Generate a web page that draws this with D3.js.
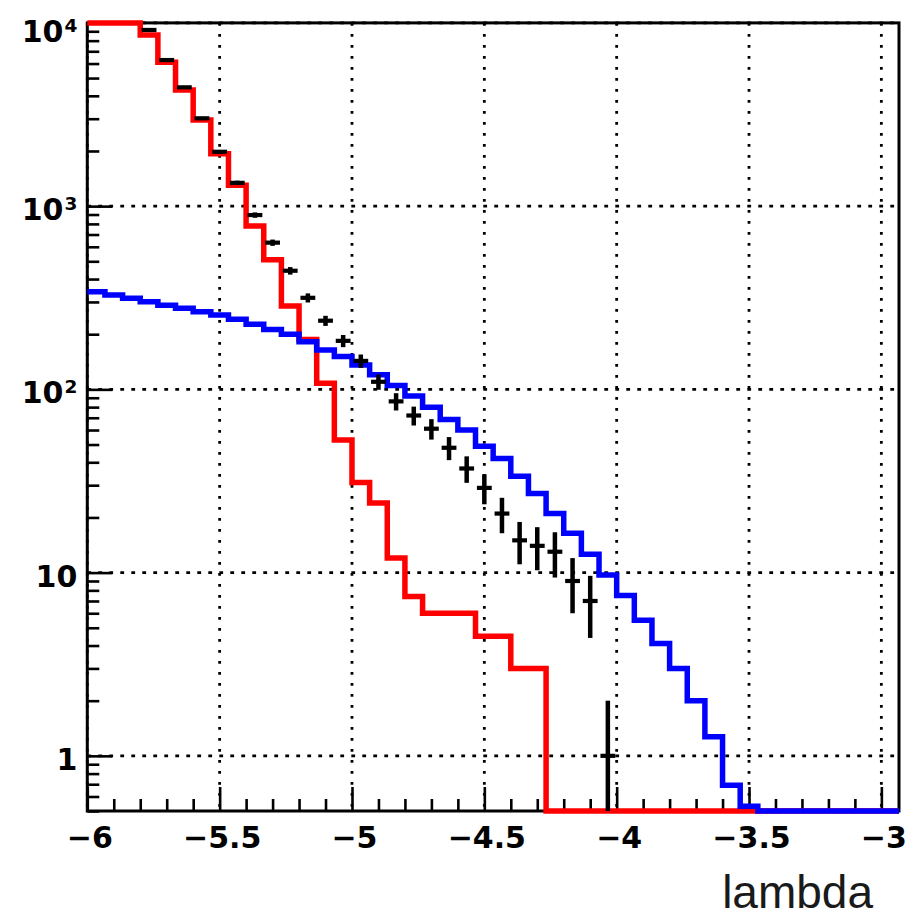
<!DOCTYPE html>
<html>
<head>
<meta charset="utf-8">
<script src="https://cdn.jsdelivr.net/npm/d3@7/dist/d3.min.js"></script>
<style>
  body { margin: 0; background: #fff; }
  svg { display: block; }
</style>
</head>
<body>
<svg id="chart" width="922" height="919"></svg>
<script>
// histogram binning: 46 bins of width 1/15 starting at lambda = -6
const binStart = -6;
const binWidth = 1 / 15;

// red histogram (first three bins run off the top of the frame)
const redCounts = [24000, 17000, 12000, 8600, 6100, 4300, 2950, 1930, 1300, 780,
  510, 285, 187, 108, 53, 31, 24, 12, 7.4, 6,
  6, 6, 4.5, 4.5, 3, 3, 0, 0, 0, 0,
  0, 0, 0, 0, 0, 0, 0, 0, 0, 0,
  0, 0, 0, 0, 0, 0];

// blue histogram
const blueCounts = [341, 327, 314, 301, 288, 277, 265, 255, 241, 227,
  212, 200, 182, 164, 151, 136, 120, 105, 92, 80,
  68.5, 60, 49, 42, 33.6, 27, 21, 16.4, 12.6, 9.7,
  7.5, 5.5, 4.1, 3.0, 2.0, 1.27, 0.69, 0.53, 0, 0,
  0, 0, 0, 0, 0, 0];

// black data points and their errors
const dataCounts = [25000, 18000, 13000, 9150, 6270, 4450, 3015, 1980, 1340, 894,
  632, 444, 316, 237, 184, 143, 110, 86, 72, 61,
  48, 37, 29, 21, 15, 14, 13, 9, 7, 1,
  0, 0, 0, 0, 0, 0, 0, 0, 0, 0,
  0, 0, 0, 0, 0, 0];
const dataErrors = [158, 134, 114, 96, 79, 67, 55, 44, 37, 30,
  25, 21, 18, 15, 14, 12, 10.5, 9.3, 8.5, 7.8,
  6.9, 6.1, 5.4, 4.6, 3.9, 3.7, 3.6, 3, 2.6, 1,
  0, 0, 0, 0, 0, 0, 0, 0, 0, 0,
  0, 0, 0, 0, 0, 0];

const xTicks = [-6, -5.5, -5, -4.5, -4, -3.5, -3];
const xTickLabels = ["\u22126", "\u22125.5", "\u22125", "\u22124.5", "\u22124", "\u22123.5", "\u22123"];
const yTicks = [1, 10, 100, 1000, 10000];
const yTickLabels = [["1", ""], ["10", ""], ["10", "2"], ["10", "3"], ["10", "4"]];
const xTitle = "lambda";

const margin = { left: 87.3, top: 22.9, right: 23, bottom: 108 };
const width = 922 - margin.left - margin.right;
const height = 919 - margin.top - margin.bottom;
const nBins = blueCounts.length;

const svg = d3.select("#chart");
svg.append("rect").attr("width", 922).attr("height", 919).attr("fill", "#fff");
const g = svg.append("g").attr("transform", "translate(" + margin.left + "," + margin.top + ")");

const x = d3.scaleLinear()
  .domain([binStart, binStart + nBins * binWidth])
  .range([0, width]);
const y = d3.scaleLog()
  .domain([0.5, 1e4])
  .range([height, 0])
  .clamp(true);
const yv = v => y(Math.max(v, 1e-6));

// dotted grid
g.append("g").selectAll("line")
  .data(xTicks)
  .enter().append("line")
  .attr("x1", d => x(d)).attr("x2", d => x(d))
  .attr("y1", 0).attr("y2", height)
  .attr("stroke", "#000").attr("stroke-width", 2.8)
  .attr("stroke-dasharray", "2.8,8.2");
g.append("g").selectAll("line")
  .data(yTicks)
  .enter().append("line")
  .attr("x1", 0).attr("x2", width)
  .attr("y1", d => y(d)).attr("y2", d => y(d))
  .attr("stroke", "#000").attr("stroke-width", 2.8)
  .attr("stroke-dasharray", "3.8,7.2");

// x axis: minor ticks every 0.1, major every 0.5
const xMinor = d3.range(-5.9, -2.95, 0.1).map(v => Math.round(v * 10) / 10)
  .filter(v => xTicks.indexOf(v) < 0);
g.append("g")
  .attr("transform", "translate(0," + height + ")")
  .call(d3.axisBottom(x).tickValues(xMinor).tickSize(-12).tickFormat(""))
  .call(a => a.select(".domain").remove())
  .selectAll("line").attr("stroke-width", 2.6);
const xAxis = g.append("g")
  .attr("transform", "translate(0," + height + ")")
  .call(d3.axisBottom(x).tickValues(xTicks).tickSize(-24)
    .tickFormat((d, i) => xTickLabels[i]));
xAxis.select(".domain").remove();
xAxis.selectAll("line").attr("stroke-width", 2.6);
xAxis.selectAll("text")
  .attr("y", 37.3).attr("dy", null).attr("dx", 2)
  .attr("fill", "#000")
  .style("font-family", "'DejaVu Sans', sans-serif")
  .style("font-weight", "bold")
  .style("font-size", "30px");

// y axis: minor ticks at 2..9 x 10^n
const yMinor = [];
[0.1, 1, 10, 100, 1000].forEach(p => {
  for (let m = 2; m <= 9; m++) {
    const v = Math.round(m * p * 10) / 10;
    if (v >= 0.5 && v < 1e4) yMinor.push(v);
  }
});
g.append("g")
  .call(d3.axisLeft(y).tickValues(yMinor).tickSize(-12).tickFormat(""))
  .call(a => a.select(".domain").remove())
  .selectAll("line").attr("stroke-width", 2.6);
const yAxis = g.append("g")
  .call(d3.axisLeft(y).tickValues(yTicks).tickSize(-25).tickPadding(10).tickFormat(""));
yAxis.select(".domain").remove();
yAxis.selectAll("line").attr("stroke-width", 2.6);
yAxis.selectAll("text").each(function (d, i) {
  const t = d3.select(this)
    .attr("dy", null)
    .attr("y", d === 1e4 ? 18.8 : 13.5)
    .attr("fill", "#000")
    .style("font-family", "'DejaVu Sans', sans-serif")
    .style("font-weight", "bold")
    .style("font-size", "30px");
  const lab = yTickLabels[i];
  t.append("tspan").text(lab[0]);
  if (lab[1]) {
    t.append("tspan").attr("dy", -10).attr("dx", 1)
      .style("font-size", "18.5px").text(lab[1]);
  }
});

// frame
g.append("rect")
  .attr("width", width).attr("height", height)
  .attr("fill", "none").attr("stroke", "#000").attr("stroke-width", 3);

// histograms
function stepPoints(counts) {
  const pts = counts.map((c, i) => [x(binStart + i * binWidth), yv(c)]);
  pts.push([x(binStart + counts.length * binWidth), yv(counts[counts.length - 1])]);
  return pts;
}
const step = d3.line().curve(d3.curveStepAfter);
g.append("path")
  .attr("d", step(stepPoints(redCounts)))
  .attr("fill", "none").attr("stroke", "#ff0000").attr("stroke-width", 5.5);
g.append("path")
  .attr("d", step(stepPoints(blueCounts)))
  .attr("fill", "none").attr("stroke", "#0000ff").attr("stroke-width", 5.5);

// data points with error bars
const pts = dataCounts.map((c, i) => ({
  center: binStart + (i + 0.5) * binWidth,
  v: c, e: dataErrors[i]
})).filter(d => d.v > 0 && d.v <= y.domain()[1]);
const pg = g.append("g").selectAll("g").data(pts).enter().append("g");
pg.append("line")
  .attr("x1", d => x(d.center)).attr("x2", d => x(d.center))
  .attr("y1", d => yv(d.v + d.e)).attr("y2", d => yv(d.v - d.e))
  .attr("stroke", "#000").attr("stroke-width", 4.5);
pg.append("line")
  .attr("x1", d => x(d.center - 0.42 * binWidth)).attr("x2", d => x(d.center + 0.42 * binWidth))
  .attr("y1", d => yv(d.v)).attr("y2", d => yv(d.v))
  .attr("stroke", "#000").attr("stroke-width", 4.2);

// axis title
svg.append("text")
  .attr("x", 873).attr("y", 908)
  .attr("text-anchor", "end")
  .attr("fill", "#1a1a1a")
  .style("font-family", "'Liberation Sans', Arial, sans-serif")
  .style("font-size", "46px")
  .text(xTitle);
</script>
</body>
</html>
